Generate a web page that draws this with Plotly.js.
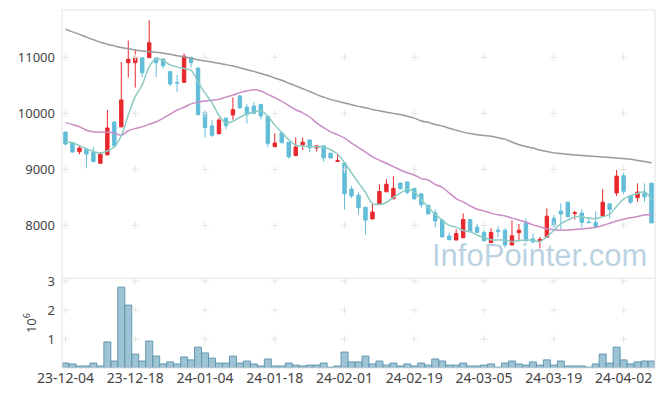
<!DOCTYPE html>
<html>
<head>
<meta charset="utf-8">
<script src="https://cdn.plot.ly/plotly-3.0.1.min.js"></script>
<style>html,body{margin:0;padding:0;background:#fff;}#chart{width:665px;height:396px;}</style>
</head>
<body>
<div id="chart"></div>
<script>
const dates = [
 "23-12-04","23-12-05","23-12-06","23-12-07","23-12-08","23-12-11","23-12-12","23-12-13","23-12-14","23-12-15",
 "23-12-18","23-12-19","23-12-20","23-12-21","23-12-22","23-12-26","23-12-27","23-12-28",
 "24-01-02","24-01-03","24-01-04","24-01-05","24-01-08","24-01-09","24-01-10","24-01-11","24-01-12","24-01-15",
 "24-01-16","24-01-17","24-01-18","24-01-19","24-01-22","24-01-23","24-01-24","24-01-25","24-01-26","24-01-29",
 "24-01-30","24-01-31",
 "24-02-01","24-02-02","24-02-05","24-02-06","24-02-07","24-02-08","24-02-13","24-02-14","24-02-15","24-02-16",
 "24-02-19","24-02-20","24-02-21","24-02-22","24-02-23","24-02-26","24-02-27","24-02-28","24-02-29",
 "24-03-04","24-03-05","24-03-06","24-03-07","24-03-08","24-03-11","24-03-12","24-03-13","24-03-14","24-03-15",
 "24-03-18","24-03-19","24-03-20","24-03-21","24-03-22","24-03-25","24-03-26","24-03-27","24-03-28","24-03-29",
 "24-04-01","24-04-02","24-04-03","24-04-04","24-04-05","24-04-08"
];
const openP  = [9666,9470,9315,9360,9300,9110,9260,9845,9760,10905,10905,10990,10995,10990,10970,10745,10550,10555,11000,10810,
 10020,9775,9635,9915,9970,10310,10110,10130,10160,9950,9405,9650,9485,9245,9440,9525,9385,9420,9290,9143,
 9110,8650,8540,8325,8115,8375,8600,8475,8755,8775,8660,8565,8360,8225,8095,7810,7740,7780,8105,7970,
 7875,7695,7915,7915,7650,7870,8045,7760,7725,7790,8125,8255,8415,8213,8220,8060,8055,8170,8385,8580,
 8885,8535,8495,8575,8755];
const highP  = [9670,9480,9430,9370,9400,9310,10060,9860,10920,11300,11130,11000,11660,11000,10980,10750,10685,11070,11010,10820,
 10045,9880,9915,9925,10285,10330,10165,10200,10170,9960,9645,9665,9490,9570,9570,9530,9425,9425,9295,9285,
 9115,8705,8600,8330,8395,8735,8825,8880,8765,8785,8670,8575,8365,8285,8100,7875,7930,8215,8110,8030,
 7915,7950,7985,7945,8090,8025,8125,7855,7795,8305,8185,8395,8420,8260,8290,8150,8250,8645,8390,8990,
 8935,8540,8750,8750,8760];
const lowP   = [9430,9300,9270,9020,9130,9105,9250,9410,9750,10640,10460,10650,10990,10650,10800,10490,10385,10550,10820,9960,
 9565,9575,9630,9715,9885,10080,9820,9985,9895,9395,9400,9470,9190,9240,9345,9305,9320,9135,9195,9140,
 8285,8490,8195,7840,8110,8370,8595,8470,8640,8555,8450,8315,8200,7965,7785,7740,7735,7775,7880,7870,
 7720,7680,7790,7605,7645,7715,7720,7680,7590,7785,7945,7925,8150,8105,7965,8045,7945,8155,8125,8525,
 8555,8375,8420,8420,8040];
const closeP = [9452,9310,9380,9275,9140,9270,9740,9420,10240,10965,11000,10725,11260,10905,10850,10525,10540,11020,10905,9980,
 9745,9610,9880,9780,10065,10100,9980,10000,9955,9465,9470,9475,9225,9400,9485,9385,9420,9205,9205,9155,
 8565,8525,8315,8095,8240,8605,8735,8660,8655,8590,8475,8370,8205,8080,7795,7745,7855,8105,7885,7875,
 7725,7875,7895,7650,7815,7915,7725,7705,7750,8165,7990,8205,8155,8225,8055,8050,7975,8415,8285,8880,
 8610,8415,8595,8510,8045];
const ma5 = [9490,9480,9420,9370,9320,9290,9330,9400,9600,9970,10300,10510,10830,10980,10940,10865,10830,10800,10770,10560,
 10360,10190,9960,9830,9860,9930,9990,10025,10045,9950,9790,9660,9530,9430,9415,9410,9405,9400,9350,9270,
 9120,8940,8760,8590,8390,8375,8410,8500,8580,8640,8600,8460,8320,8200,8095,8000,7970,7910,7890,7830,
 7780,7745,7738,7738,7710,7730,7740,7738,7710,7800,7910,8030,8095,8154,8154,8130,8120,8155,8200,8340,
 8470,8530,8570,8600,8460];
const ma20 = [9835,9800,9760,9700,9670,9665,9665,9650,9610,9690,9730,9760,9805,9850,9915,9985,10060,10110,10170,10200,
 10220,10235,10250,10290,10325,10370,10400,10420,10400,10340,10280,10215,10140,10065,10010,9935,9830,9745,9670,9620,
 9560,9470,9390,9310,9225,9165,9110,9050,8990,8940,8900,8835,8810,8730,8680,8580,8480,8420,8350,8290,
 8260,8220,8190,8170,8130,8095,8060,8010,7975,7940,7922,7916,7920,7928,7935,7950,7965,8000,8040,8080,
 8110,8135,8160,8185,8196];
const ma60 = [11500,11455,11410,11360,11315,11270,11235,11205,11175,11155,11130,11115,11105,11090,11075,11055,11030,11010,10985,10955,
 10935,10915,10895,10870,10845,10815,10780,10750,10712,10675,10630,10590,10540,10490,10440,10390,10335,10290,10250,10215,
 10185,10155,10125,10100,10070,10045,10020,10000,9980,9950,9915,9865,9840,9800,9775,9735,9700,9665,9640,9620,
 9605,9590,9565,9540,9490,9440,9410,9380,9345,9320,9295,9283,9270,9258,9248,9240,9230,9222,9213,9203,
 9193,9180,9160,9140,9120];
const volume = [170000,140000,70000,70000,170000,70000,900000,240000,2790000,2170000,480000,240000,930000,410000,140000,210000,140000,380000,280000,720000,
 520000,340000,170000,170000,410000,170000,240000,140000,70000,310000,70000,70000,170000,100000,70000,100000,100000,170000,30000,70000,
 550000,210000,210000,410000,140000,240000,100000,170000,70000,140000,70000,170000,100000,310000,240000,100000,100000,170000,70000,70000,
 100000,140000,30000,170000,240000,140000,100000,210000,100000,280000,100000,240000,70000,70000,70000,30000,140000,480000,170000,720000,
 280000,140000,210000,240000,240000];
const priceTicks = [8000, 9000, 10000, 11000];
const volTicks = [1000000, 2000000, 3000000];
const volTickText = ["1", "2", "3"];
const dateTicks = dates.filter((d, i) => i % 10 === 0);

const crossStyle = {symbol: 'cross-thin', size: 5, color: '#e4e4e4', line: {color: '#e4e4e4', width: 1}};
const gx = [], gy = [], vx = [], vy = [];
dateTicks.forEach(d => { priceTicks.forEach(p => { gx.push(d); gy.push(p); }); volTicks.forEach(v => { vx.push(d); vy.push(v); }); });

const traces = [
  {type: 'bar', x: dates, y: volume, xaxis: 'x', yaxis: 'y2',
   marker: {color: 'rgba(125,175,198,0.75)', line: {color: '#6399b3', width: 1}}, hoverinfo: 'skip'},
  {type: 'scatter', mode: 'markers', x: gx, y: gy, xaxis: 'x', yaxis: 'y', marker: crossStyle, hoverinfo: 'skip'},
  {type: 'scatter', mode: 'markers', x: vx, y: vy, xaxis: 'x', yaxis: 'y2', marker: crossStyle, hoverinfo: 'skip'},
  {type: 'scatter', mode: 'lines', x: dates, y: ma60, xaxis: 'x', yaxis: 'y', line: {color: '#9a9a9a', width: 1.5, shape: 'spline'}, hoverinfo: 'skip'},
  {type: 'scatter', mode: 'lines', x: dates, y: ma20, xaxis: 'x', yaxis: 'y', line: {color: '#c98cc4', width: 1.5, shape: 'spline'}, hoverinfo: 'skip'},
  {type: 'scatter', mode: 'lines', x: dates, y: ma5, xaxis: 'x', yaxis: 'y', line: {color: '#8ccbc2', width: 1.5, shape: 'spline'}, hoverinfo: 'skip'},
  {type: 'candlestick', x: dates, open: openP, high: highP, low: lowP, close: closeP, xaxis: 'x', yaxis: 'y',
   increasing: {line: {color: '#e8282d', width: 1}, fillcolor: '#e8282d'},
   decreasing: {line: {color: '#62bdd8', width: 1}, fillcolor: '#62bdd8'},
   whiskerwidth: 0, hoverinfo: 'skip'}
];

const layout = {
  width: 665, height: 396,
  margin: {l: 62, r: 10, t: 10, b: 28},
  paper_bgcolor: '#fff', plot_bgcolor: '#fff',
  showlegend: false,
  bargap: 0,
  boxgap: 0.3,
  font: {family: 'Noto Sans, DejaVu Sans, sans-serif', size: 13, color: '#444'},
  xaxis: {type: 'category', categoryorder: 'array', categoryarray: dates, range: [-0.5, dates.length - 0.5], anchor: 'y2',
    tickvals: dateTicks, ticktext: dateTicks, showgrid: false, zeroline: false, showline: false,
    ticks: '', tickangle: 0, tickfont: {size: 14, color: '#444'}, rangeslider: {visible: false}},
  yaxis: {domain: [0.251, 1], range: [7059, 11845], tickvals: priceTicks, tickformat: 'd', showgrid: false, zeroline: false,
    showline: false, ticks: '', ticklabelstandoff: 6, tickfont: {size: 13, color: '#444'}},
  yaxis2: {domain: [0, 0.251], range: [0, 3100000], tickvals: volTicks, ticktext: volTickText, showgrid: false,
    zeroline: false, showline: false, ticks: '', ticklabelstandoff: 6, tickfont: {size: 13, color: '#444'},
    title: {text: '10<sup>6</sup>', font: {size: 13, color: '#444'}, standoff: 8}},
  shapes: [
    {type: 'rect', xref: 'paper', yref: 'paper', x0: 0, x1: 1, y0: 0, y1: 1, line: {color: '#e2e2e2', width: 1}},
    {type: 'line', xref: 'paper', yref: 'paper', x0: 0, x1: 1, y0: 0.251, y1: 0.251, line: {color: '#e2e2e2', width: 1}}
  ],
  annotations: [
    {text: 'InfoPointer.com', xref: 'paper', yref: 'paper', x: 0.99, y: 0.313, xanchor: 'right', yanchor: 'middle',
     showarrow: false, font: {family: 'Liberation Sans, Arial, sans-serif', size: 31, color: 'rgba(140,180,205,0.6)'}}
  ]
};

Plotly.newPlot('chart', traces, layout, {displayModeBar: false, staticPlot: true});
</script>
</body>
</html>
